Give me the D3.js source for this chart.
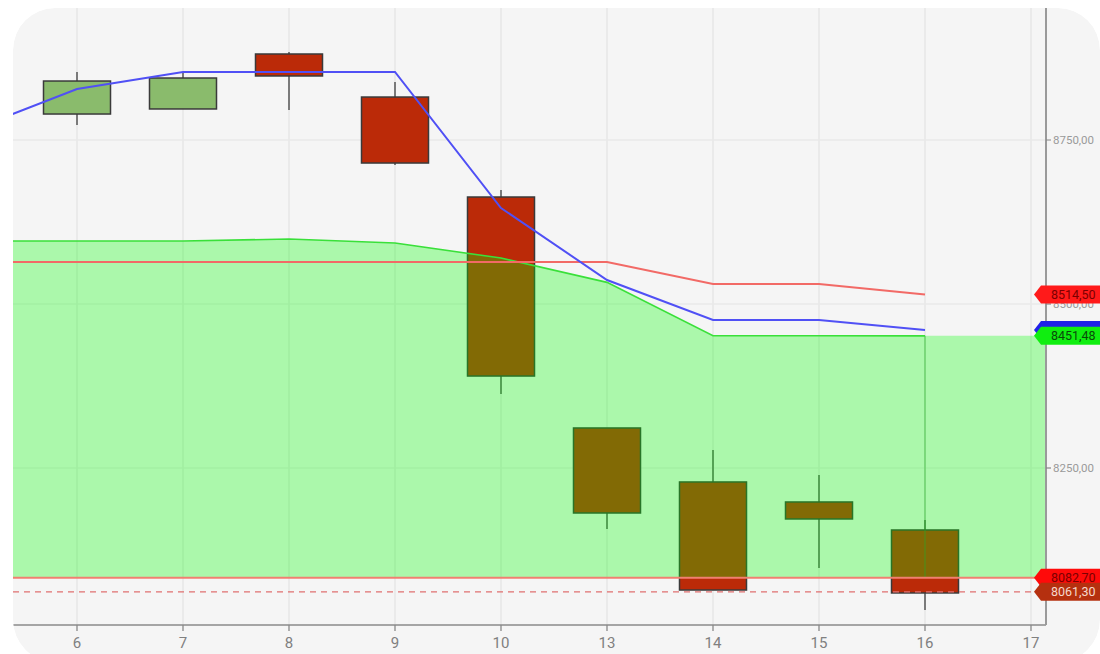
<!DOCTYPE html>
<html>
<head>
<meta charset="utf-8">
<script src="https://cdn.jsdelivr.net/npm/d3@7"></script>
<style>
  html, body { margin: 0; padding: 0; background: #ffffff; }
  svg { display: block; font-family: Roboto, "Noto Sans", sans-serif; }
</style>
</head>
<body>
<svg id="chart" width="1100" height="654"></svg>
<script>
// ---------- data ----------
const days      = ["5", "6", "7", "8", "9", "10", "13", "14", "15", "16", "17"];
const tickDays  = ["6", "7", "8", "9", "10", "13", "14", "15", "16", "17"];
const candleDays = ["6", "7", "8", "9", "10", "13", "14", "15", "16"];
const openVals  = [8789.6, 8797.3, 8881.1, 8815.5, 8663.1, 8311.0, 8228.7, 8198.2, 8155.5];
const closeVals = [8839.9, 8844.5, 8847.6, 8714.9, 8390.2, 8181.4, 8064.0, 8172.3, 8059.5];
const highVals  = [8853.7, 8853.7, 8884.1, 8838.4, 8673.8, 8311.0, 8277.4, 8239.3, 8170.7];
const lowVals   = [8772.9, 8797.3, 8795.7, 8711.9, 8362.8, 8157.0, 8064.0, 8097.6, 8033.5];
const lineDays  = ["5", "6", "7", "8", "9", "10", "13", "14", "15", "16"];
const blueVals  = [8765.0, 8827.7, 8853.7, 8853.7, 8853.7, 8646.3, 8536.6, 8475.6, 8475.6, 8460.4];
const redVals   = [8564.0, 8564.0, 8564.0, 8564.0, 8564.0, 8564.0, 8564.0, 8530.5, 8530.5, 8514.5];
const greenVals = [8596.0, 8596.0, 8596.0, 8599.0, 8593.0, 8570.0, 8533.0, 8451.5, 8451.5, 8451.48];
const supportLevel = 8082.70;
const dashedLevel  = 8061.30;
const yTicks = [8250, 8500, 8750];
const tagValues = [8514.50, 8460.40, 8451.48, 8082.70, 8061.30];
const tagKinds  = ["red", "blue", "green", "red2", "brown"];

// ---------- layout ----------
const svg = d3.select("#chart");
const card = { x: 13, y: 8, w: 1087, h: 654, r: 42 };
const plot = { left: 13, right: 1046, top: 8, bottom: 625 };

const x = d3.scalePoint().domain(days).range([-29, 1031]);
const y = d3.scaleLinear().domain([8000, 8750]).range([632, 140]);
const fmt = v => d3.format(".2f")(v).replace(".", ",");

const defs = svg.append("defs");
defs.append("clipPath").attr("id", "cardClip")
  .append("rect").attr("x", card.x).attr("y", card.y).attr("width", card.w).attr("height", card.h).attr("rx", card.r);
defs.append("clipPath").attr("id", "plotClip")
  .append("rect").attr("x", plot.left).attr("y", plot.top)
  .attr("width", plot.right - plot.left).attr("height", plot.bottom - plot.top);

const root = svg.append("g").attr("clip-path", "url(#cardClip)");
root.append("rect").attr("x", card.x).attr("y", card.y).attr("width", card.w).attr("height", card.h)
  .attr("rx", card.r).attr("fill", "#f5f5f5");

const pg = root.append("g").attr("clip-path", "url(#plotClip)");

// grid
pg.selectAll("line.vg").data(tickDays).join("line")
  .attr("x1", d => x(d)).attr("x2", d => x(d)).attr("y1", plot.top).attr("y2", plot.bottom)
  .attr("stroke", "#e6e6e6").attr("stroke-width", 1.5);
pg.selectAll("line.hg").data(yTicks).join("line")
  .attr("x1", plot.left).attr("x2", plot.right).attr("y1", d => y(d)).attr("y2", d => y(d))
  .attr("stroke", "#e9e9e9").attr("stroke-width", 1.5);

// candles
const candles = candleDays.map((d, i) => ({ d, o: openVals[i], c: closeVals[i], h: highVals[i], l: lowVals[i] }));
const bw = 67;
pg.selectAll("line.wick").data(candles).join("line")
  .attr("x1", d => x(d.d)).attr("x2", d => x(d.d))
  .attr("y1", d => y(d.h)).attr("y2", d => y(d.l))
  .attr("stroke", "#555").attr("stroke-width", 1.5);
pg.selectAll("rect.body").data(candles).join("rect")
  .attr("x", d => x(d.d) - bw / 2).attr("width", bw)
  .attr("y", d => y(Math.max(d.o, d.c)))
  .attr("height", d => Math.abs(y(d.o) - y(d.c)))
  .attr("fill", d => d.c >= d.o ? "#8abb6c" : "#bb2a08")
  .attr("stroke", "#3a3a3a").attr("stroke-width", 1.5);

// green filled area
const greenPts = lineDays.map((d, i) => ({ x: x(d), v: greenVals[i] }));
const fillPts = greenPts.concat([{ x: plot.right, v: greenVals[greenVals.length - 1] }]);
pg.append("path").datum(fillPts)
  .attr("d", d3.area().x(d => d.x).y0(y(supportLevel)).y1(d => y(d.v)))
  .attr("fill", "rgba(0,255,0,0.3)");

// vertical marker at last candle
pg.append("line")
  .attr("x1", x("16")).attr("x2", x("16"))
  .attr("y1", y(greenVals[greenVals.length - 1])).attr("y2", y(supportLevel))
  .attr("stroke", "rgba(40,170,40,0.55)").attr("stroke-width", 1.2);

// levels
pg.append("line").attr("x1", plot.left).attr("x2", plot.right)
  .attr("y1", y(supportLevel)).attr("y2", y(supportLevel))
  .attr("stroke", "#f08070").attr("stroke-width", 2);
pg.append("line").attr("x1", plot.left).attr("x2", plot.right)
  .attr("y1", y(dashedLevel)).attr("y2", y(dashedLevel))
  .attr("stroke", "#e07070").attr("stroke-width", 1.3).attr("stroke-dasharray", "6,5");

// lines
const lineGen = d3.line().x(d => d.x).y(d => y(d.v));
pg.append("path").datum(greenPts).attr("d", lineGen)
  .attr("fill", "none").attr("stroke", "#3ae03a").attr("stroke-width", 1.6);
pg.append("path").datum(lineDays.map((d, i) => ({ x: x(d), v: redVals[i] }))).attr("d", lineGen)
  .attr("fill", "none").attr("stroke", "#f26a66").attr("stroke-width", 2);
pg.append("path").datum(lineDays.map((d, i) => ({ x: x(d), v: blueVals[i] }))).attr("d", lineGen)
  .attr("fill", "none").attr("stroke", "#5050f5").attr("stroke-width", 2);

// axes lines
root.append("line").attr("x1", plot.left).attr("x2", plot.right).attr("y1", plot.bottom).attr("y2", plot.bottom)
  .attr("stroke", "#8a8a8a").attr("stroke-width", 1.6);
root.append("line").attr("x1", plot.right).attr("x2", plot.right).attr("y1", plot.top).attr("y2", plot.bottom)
  .attr("stroke", "#9a9a9a").attr("stroke-width", 2);

// x axis ticks & labels
root.selectAll("line.xt").data(tickDays).join("line")
  .attr("x1", d => x(d)).attr("x2", d => x(d)).attr("y1", plot.bottom).attr("y2", plot.bottom + 6)
  .attr("stroke", "#888").attr("stroke-width", 1.3);
root.selectAll("text.xl").data(tickDays).join("text")
  .attr("x", d => x(d)).attr("y", 648).attr("text-anchor", "middle")
  .attr("font-size", 15).attr("fill", "#808080").text(d => d);

// y axis ticks & labels
root.selectAll("line.yt").data(yTicks).join("line")
  .attr("x1", plot.right).attr("x2", plot.right + 5).attr("y1", d => y(d)).attr("y2", d => y(d))
  .attr("stroke", "#888").attr("stroke-width", 1.2);
root.selectAll("text.yl").data(yTicks).join("text")
  .attr("x", plot.right + 7).attr("y", d => y(d) + 4)
  .attr("font-size", 11.5).attr("fill", "#9a9a9a").text(d => fmt(d));

// price tags
const tagStyle = {
  red:   { fill: "#ff1a1a", text: "#7a0000" },
  blue:  { fill: "#2020e8", text: "#ffffff" },
  green: { fill: "#10ee10", text: "#0a4a0a" },
  red2:  { fill: "#ff0a0a", text: "#7a0000" },
  brown: { fill: "#b5300f", text: "#f6d8cc" }
};
const tags = tagValues.map((v, i) => ({ v, k: tagKinds[i] }));
const th = 18;
const tg = root.selectAll("g.tag").data(tags).join("g")
  .attr("transform", d => `translate(0,${y(d.v)})`);
tg.append("path")
  .attr("d", `M${plot.right - 12},0 L${plot.right - 5},${-th / 2} L1110,${-th / 2} L1110,${th / 2} L${plot.right - 5},${th / 2} Z`)
  .attr("fill", d => tagStyle[d.k].fill);
tg.filter(d => d.k !== "blue").append("text")
  .attr("x", plot.right + 5).attr("y", 4.5)
  .attr("font-size", 12.5).attr("fill", d => tagStyle[d.k].text).text(d => fmt(d.v));
</script>
</body>
</html>
